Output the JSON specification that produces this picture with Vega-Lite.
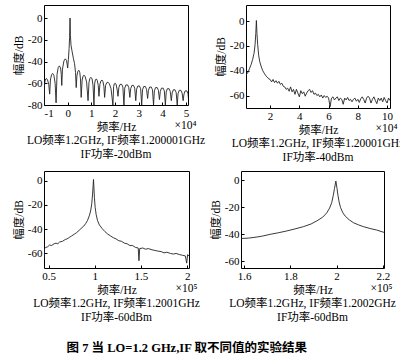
{
  "$schema": "https://vega.github.io/schema/vega-lite/v6.json",
  "background": "white",
  "padding": {"left": 12, "top": 4, "right": 0, "bottom": 0},
  "title": {"text": "图 7   当 LO=1.2 GHz,IF 取不同值的实验结果", "orient": "bottom", "anchor": "middle", "frame": "bounds", "fontSize": 12.5, "fontWeight": "bold", "font": "Liberation Serif, Noto Sans CJK SC", "color": "black", "offset": 18, "dx": -22},
  "spacing": 6,
  "vconcat": [
    {
      "spacing": 8,
      "hconcat": [
        {
          "width": 144, "height": 100,
          "title": {"text": ["LO频率1.2GHz, IF频率1.200001GHz", "IF功率-20dBm"]},
          "data": {"values": [
            {"f":-1.0,"db":-80},{"f":-0.98,"db":-62},{"f":-0.95,"db":-57},{"f":-0.9,"db":-55.5},{"f":-0.85,"db":-57},{"f":-0.8,"db":-61},{"f":-0.76,"db":-70},
            {"f":-0.73,"db":-57},{"f":-0.68,"db":-52},{"f":-0.63,"db":-51},{"f":-0.58,"db":-53},{"f":-0.53,"db":-60},{"f":-0.49,"db":-78},
            {"f":-0.45,"db":-52},{"f":-0.4,"db":-45.5},{"f":-0.35,"db":-44},{"f":-0.3,"db":-46},{"f":-0.27,"db":-52},{"f":-0.25,"db":-62},
            {"f":-0.22,"db":-47},{"f":-0.16,"db":-39.5},{"f":-0.1,"db":-37.5},{"f":-0.05,"db":-39},{"f":-0.02,"db":-43},{"f":0.0,"db":-46},
            {"f":0.03,"db":-38},{"f":0.06,"db":-28},{"f":0.08,"db":-18},{"f":0.1,"db":0},{"f":0.115,"db":-16},{"f":0.14,"db":-25},{"f":0.18,"db":-30},
            {"f":0.24,"db":-37},{"f":0.29,"db":-42},{"f":0.33,"db":-50},{"f":0.36,"db":-64},{"f":0.39,"db":-53},{"f":0.43,"db":-49},{"f":0.47,"db":-48},
            {"f":0.51,"db":-50},{"f":0.54,"db":-56},{"f":0.57,"db":-73},{"f":0.61,"db":-57},{"f":0.65,"db":-53.5},{"f":0.69,"db":-52.5},{"f":0.74,"db":-54},
            {"f":0.8,"db":-59},{"f":0.86,"db":-76},{"f":0.9,"db":-59},{"f":0.94,"db":-55.5},{"f":0.98,"db":-54.5},{"f":1.03,"db":-56},{"f":1.07,"db":-62},
            {"f":1.11,"db":-80},{"f":1.14,"db":-60},{"f":1.17,"db":-57},{"f":1.21,"db":-56},{"f":1.25,"db":-57.5},{"f":1.29,"db":-62},{"f":1.32,"db":-72},
            {"f":1.36,"db":-61},{"f":1.4,"db":-58},{"f":1.45,"db":-57},{"f":1.49,"db":-58.5},{"f":1.53,"db":-63},{"f":1.56,"db":-73},{"f":1.6,"db":-62},
            {"f":1.65,"db":-59.5},{"f":1.7,"db":-59},{"f":1.76,"db":-60.5},{"f":1.83,"db":-65},{"f":1.91,"db":-80},{"f":1.94,"db":-63},{"f":1.97,"db":-60.5},
            {"f":2.01,"db":-60},{"f":2.05,"db":-61.5},{"f":2.09,"db":-66},{"f":2.125,"db":-72},
            {"f":2.16,"db":-64},{"f":2.21,"db":-61},{"f":2.28,"db":-61},{"f":2.33,"db":-63.5},{"f":2.375,"db":-80},
            {"f":2.41,"db":-64.5},{"f":2.46,"db":-61.5},{"f":2.53,"db":-61.5},{"f":2.58,"db":-64},{"f":2.625,"db":-73},
            {"f":2.66,"db":-65},{"f":2.71,"db":-62},{"f":2.78,"db":-62},{"f":2.83,"db":-64.5},{"f":2.875,"db":-76},
            {"f":2.91,"db":-65.5},{"f":2.96,"db":-62.5},{"f":3.03,"db":-62.5},{"f":3.08,"db":-65},{"f":3.125,"db":-80},
            {"f":3.16,"db":-66},{"f":3.21,"db":-63},{"f":3.28,"db":-63},{"f":3.33,"db":-65.5},{"f":3.375,"db":-74},
            {"f":3.41,"db":-66.5},{"f":3.46,"db":-63.5},{"f":3.53,"db":-63.5},{"f":3.58,"db":-66},{"f":3.625,"db":-80},
            {"f":3.66,"db":-67},{"f":3.71,"db":-64},{"f":3.78,"db":-64},{"f":3.83,"db":-66.5},{"f":3.875,"db":-75},
            {"f":3.91,"db":-67.5},{"f":3.96,"db":-64.5},{"f":4.03,"db":-64.5},{"f":4.08,"db":-67},{"f":4.125,"db":-80},
            {"f":4.16,"db":-68},{"f":4.21,"db":-65},{"f":4.28,"db":-65},{"f":4.33,"db":-67.5},{"f":4.375,"db":-76},
            {"f":4.41,"db":-69},{"f":4.46,"db":-66},{"f":4.53,"db":-66},{"f":4.58,"db":-68.5},{"f":4.625,"db":-80},
            {"f":4.66,"db":-69.5},{"f":4.71,"db":-66.5},{"f":4.78,"db":-66.5},{"f":4.83,"db":-69},{"f":4.875,"db":-76},
            {"f":4.91,"db":-70},{"f":4.96,"db":-67},{"f":5.03,"db":-67},{"f":5.08,"db":-69.5},{"f":5.125,"db":-80}
          ]},
          "layer": [
            {"mark": {"type": "line", "color": "#222", "strokeWidth": 0.9, "clip": true},
             "encoding": {
               "x": {"field": "f", "type": "quantitative", "scale": {"domain": [-1, 5.08], "nice": false, "zero": false},
                     "axis": {"values": [-1,0,1,2,3,4,5], "title": "频率/Hz", "labelExpr": "'' + datum.value"}},
               "y": {"field": "db", "type": "quantitative", "scale": {"domain": [-80, 12], "nice": false, "zero": false},
                     "axis": {"values": [-80,-60,-40,-20,0], "title": "幅度/dB", "labelExpr": "'' + datum.value"}}
             }},
            {"mark": {"type": "line", "opacity": 0},
             "encoding": {
               "x": {"field": "f", "type": "quantitative",
                     "axis": {"orient": "bottom", "title": "×10⁴", "labels": false, "ticks": false, "titleAlign": "right", "titleX": 152, "titleY": 14, "titleBaseline": "top"}}
             }}
          ],
          "resolve": {"axis": {"x": "independent"}}
        },
        {
          "width": 144, "height": 103,
          "title": {"text": ["LO频率1.2GHz, IF频率1.20001GHz", "IF功率-40dBm"]},
          "data": {"values": [
            {"f":0.35,"db":-43.5},{"f":0.5,"db":-41},{"f":0.6,"db":-38},{"f":0.7,"db":-35},{"f":0.8,"db":-31},{"f":0.9,"db":-26},{"f":0.97,"db":-19},
            {"f":1.02,"db":-10},{"f":1.06,"db":0.5},{"f":1.1,"db":-10},{"f":1.15,"db":-19},{"f":1.22,"db":-28},{"f":1.3,"db":-33},{"f":1.4,"db":-37},
            {"f":1.5,"db":-40},{"f":1.6,"db":-42},{"f":1.7,"db":-44},{"f":1.8,"db":-45},{"f":1.9,"db":-46.5},{"f":2.0,"db":-47},{"f":2.1,"db":-49},
            {"f":2.2,"db":-47},{"f":2.3,"db":-49.5},{"f":2.4,"db":-48},{"f":2.5,"db":-50},{"f":2.6,"db":-48.5},{"f":2.7,"db":-51},{"f":2.8,"db":-50},
            {"f":2.9,"db":-52.5},{"f":3.0,"db":-53},{"f":3.1,"db":-55},{"f":3.2,"db":-54},{"f":3.3,"db":-56.5},{"f":3.4,"db":-53},{"f":3.5,"db":-57},
            {"f":3.6,"db":-55},{"f":3.7,"db":-59},{"f":3.8,"db":-55},{"f":3.9,"db":-58},{"f":4.0,"db":-61},{"f":4.1,"db":-56},{"f":4.2,"db":-58.5},
            {"f":4.3,"db":-57},{"f":4.4,"db":-60.5},{"f":4.5,"db":-58},{"f":4.6,"db":-56},{"f":4.7,"db":-55},{"f":4.8,"db":-57.5},{"f":4.9,"db":-56},
            {"f":5.0,"db":-59},{"f":5.1,"db":-58},{"f":5.2,"db":-60},{"f":5.3,"db":-59},{"f":5.4,"db":-61},{"f":5.5,"db":-59.5},{"f":5.6,"db":-62},
            {"f":5.7,"db":-60},{"f":5.8,"db":-61.5},{"f":5.9,"db":-60.5},{"f":6.0,"db":-62},{"f":6.1,"db":-69},{"f":6.2,"db":-62},{"f":6.3,"db":-61},
            {"f":6.4,"db":-63.5},{"f":6.5,"db":-62},{"f":6.6,"db":-61},{"f":6.7,"db":-64},{"f":6.8,"db":-62},{"f":6.9,"db":-63},{"f":7.0,"db":-67},
            {"f":7.1,"db":-62},{"f":7.2,"db":-63.5},{"f":7.3,"db":-61.5},{"f":7.4,"db":-64},{"f":7.5,"db":-63},{"f":7.6,"db":-65},{"f":7.7,"db":-63},
            {"f":7.8,"db":-62},{"f":7.9,"db":-64.5},{"f":8.0,"db":-63},{"f":8.1,"db":-65.5},{"f":8.2,"db":-62.5},{"f":8.3,"db":-61},{"f":8.4,"db":-63},
            {"f":8.5,"db":-66},{"f":8.6,"db":-62},{"f":8.7,"db":-60.5},{"f":8.8,"db":-62},{"f":8.9,"db":-66},{"f":9.0,"db":-63},{"f":9.1,"db":-61},
            {"f":9.2,"db":-64},{"f":9.3,"db":-66.5},{"f":9.4,"db":-62},{"f":9.5,"db":-64},{"f":9.6,"db":-62},{"f":9.7,"db":-65},{"f":9.8,"db":-61.5},
            {"f":9.9,"db":-64},{"f":10.0,"db":-66},{"f":10.1,"db":-62},{"f":10.2,"db":-64}
          ]},
          "layer": [
            {"mark": {"type": "line", "color": "#222", "strokeWidth": 0.9, "clip": true},
             "encoding": {
               "x": {"field": "f", "type": "quantitative", "scale": {"domain": [0.35, 10.2], "nice": false, "zero": false},
                     "axis": {"values": [2,4,6,8,10], "title": "频率/Hz", "labelExpr": "'' + datum.value"}},
               "y": {"field": "db", "type": "quantitative", "scale": {"domain": [-70, 13], "nice": false, "zero": false},
                     "axis": {"values": [-60,-40,-20,0], "title": "幅度/dB", "labelExpr": "'' + datum.value"}}
             }},
            {"mark": {"type": "line", "opacity": 0},
             "encoding": {
               "x": {"field": "f", "type": "quantitative",
                     "axis": {"orient": "bottom", "title": "×10⁴", "labels": false, "ticks": false, "titleAlign": "right", "titleX": 151, "titleY": 14, "titleBaseline": "top"}}
             }}
          ],
          "resolve": {"axis": {"x": "independent"}}
        }
      ]
    },
    {
      "spacing": 8,
      "hconcat": [
        {
          "width": 145, "height": 97,
          "title": {"text": ["LO频率1.2GHz, IF频率1.2001GHz", "IF功率-60dBm"]},
          "data": {"values": [
            {"f":0.452,"db":-64},{"f":0.456,"db":-56},{"f":0.47,"db":-55},{"f":0.49,"db":-54.5},{"f":0.51,"db":-53},{"f":0.53,"db":-53.5},{"f":0.56,"db":-52},
            {"f":0.58,"db":-51.5},{"f":0.6,"db":-52},{"f":0.62,"db":-50.5},{"f":0.65,"db":-50},{"f":0.68,"db":-48.5},{"f":0.7,"db":-48},{"f":0.73,"db":-46.5},
            {"f":0.75,"db":-45.5},{"f":0.78,"db":-44},{"f":0.8,"db":-43},{"f":0.83,"db":-41},{"f":0.85,"db":-39.5},{"f":0.88,"db":-37.5},{"f":0.9,"db":-35.5},
            {"f":0.92,"db":-33},{"f":0.94,"db":-29},{"f":0.955,"db":-25},{"f":0.967,"db":-19},{"f":0.976,"db":-11},{"f":0.982,"db":-4},{"f":0.986,"db":1},
            {"f":0.99,"db":-5},{"f":0.996,"db":-14},{"f":1.004,"db":-22},{"f":1.015,"db":-28},{"f":1.03,"db":-33},{"f":1.05,"db":-36.5},{"f":1.08,"db":-39.5},
            {"f":1.11,"db":-42},{"f":1.14,"db":-44},{"f":1.17,"db":-45.5},{"f":1.2,"db":-47},{"f":1.23,"db":-48},{"f":1.26,"db":-49.5},{"f":1.29,"db":-50},
            {"f":1.32,"db":-51.5},{"f":1.35,"db":-52},{"f":1.38,"db":-53.5},{"f":1.41,"db":-53.5},{"f":1.44,"db":-55},{"f":1.47,"db":-55.5},{"f":1.478,"db":-66},
            {"f":1.486,"db":-56},{"f":1.52,"db":-55.5},{"f":1.55,"db":-56.5},{"f":1.58,"db":-56},{"f":1.62,"db":-57},{"f":1.65,"db":-57.5},{"f":1.68,"db":-58},
            {"f":1.72,"db":-58.5},{"f":1.75,"db":-59.5},{"f":1.78,"db":-59},{"f":1.82,"db":-60},{"f":1.85,"db":-60.5},{"f":1.88,"db":-60},{"f":1.92,"db":-61},
            {"f":1.95,"db":-61.5},{"f":1.98,"db":-62},{"f":1.995,"db":-68},{"f":2.005,"db":-61},{"f":2.02,"db":-62}
          ]},
          "layer": [
            {"mark": {"type": "line", "color": "#222", "strokeWidth": 0.9, "clip": true},
             "encoding": {
               "x": {"field": "f", "type": "quantitative", "scale": {"domain": [0.45, 2.02], "nice": false, "zero": false},
                     "axis": {"values": [0.5,1,1.5,2], "title": "频率/Hz", "labelExpr": "'' + datum.value"}},
               "y": {"field": "db", "type": "quantitative", "scale": {"domain": [-72, 8], "nice": false, "zero": false},
                     "axis": {"values": [-60,-40,-20,0], "title": "幅度/dB", "labelExpr": "'' + datum.value"}}
             }},
            {"mark": {"type": "line", "opacity": 0},
             "encoding": {
               "x": {"field": "f", "type": "quantitative",
                     "axis": {"orient": "bottom", "title": "×10⁵", "labels": false, "ticks": false, "titleAlign": "right", "titleX": 153, "titleY": 14, "titleBaseline": "top"}}
             }}
          ],
          "resolve": {"axis": {"x": "independent"}}
        },
        {
          "width": 143, "height": 97,
          "title": {"text": ["LO频率1.2GHz, IF频率1.2002GHz", "IF功率-60dBm"]},
          "data": {"values": [
            {"f":1.587,"db":-43},{"f":1.6,"db":-43},{"f":1.62,"db":-42.8},{"f":1.656,"db":-42},{"f":1.68,"db":-41.3},{"f":1.713,"db":-40},{"f":1.75,"db":-38.8},
            {"f":1.785,"db":-37.5},{"f":1.82,"db":-36},{"f":1.857,"db":-34.3},{"f":1.89,"db":-32.3},{"f":1.915,"db":-30},{"f":1.94,"db":-27.3},{"f":1.958,"db":-24},
            {"f":1.97,"db":-20.5},{"f":1.979,"db":-16.5},{"f":1.986,"db":-11},{"f":1.991,"db":-6},{"f":1.997,"db":-0.5},{"f":2.002,"db":-6},{"f":2.006,"db":-11},
            {"f":2.011,"db":-16},{"f":2.017,"db":-20},{"f":2.027,"db":-24},{"f":2.037,"db":-26.4},{"f":2.055,"db":-29.3},{"f":2.073,"db":-31.4},{"f":2.095,"db":-33},
            {"f":2.116,"db":-34.3},{"f":2.145,"db":-35.7},{"f":2.173,"db":-36.8},{"f":2.2,"db":-38.3},{"f":2.205,"db":-38.5}
          ]},
          "layer": [
            {"mark": {"type": "line", "color": "#222", "strokeWidth": 0.9, "clip": true},
             "encoding": {
               "x": {"field": "f", "type": "quantitative", "scale": {"domain": [1.587, 2.205], "nice": false, "zero": false},
                     "axis": {"values": [1.6,1.8,2,2.2], "title": "频率/Hz", "labelExpr": "'' + datum.value"}},
               "y": {"field": "db", "type": "quantitative", "scale": {"domain": [-65, 7], "nice": false, "zero": false},
                     "axis": {"values": [-60,-40,-20,0], "title": "幅度/dB", "labelExpr": "'' + datum.value"}}
             }},
            {"mark": {"type": "line", "opacity": 0},
             "encoding": {
               "x": {"field": "f", "type": "quantitative",
                     "axis": {"orient": "bottom", "title": "×10⁵", "labels": false, "ticks": false, "titleAlign": "right", "titleX": 151, "titleY": 14, "titleBaseline": "top"}}
             }}
          ],
          "resolve": {"axis": {"x": "independent"}}
        }
      ]
    }
  ],
  "config": {
    "view": {"stroke": "black", "strokeWidth": 1},
    "axis": {"grid": false, "domain": false, "tickColor": "black", "tickSize": -3, "labelPadding": 5,
             "labelFont": "Liberation Serif", "labelFontSize": 11, "labelColor": "black",
             "titleFont": "Liberation Serif, Noto Sans CJK SC", "titleFontSize": 11.5, "titleFontWeight": "normal", "titleColor": "black", "titlePadding": 3},
    "title": {"orient": "bottom", "anchor": "middle", "font": "Liberation Serif, Noto Sans CJK SC", "fontSize": 11.5, "fontWeight": "normal", "color": "black", "lineHeight": 14, "offset": 2}
  }
}
